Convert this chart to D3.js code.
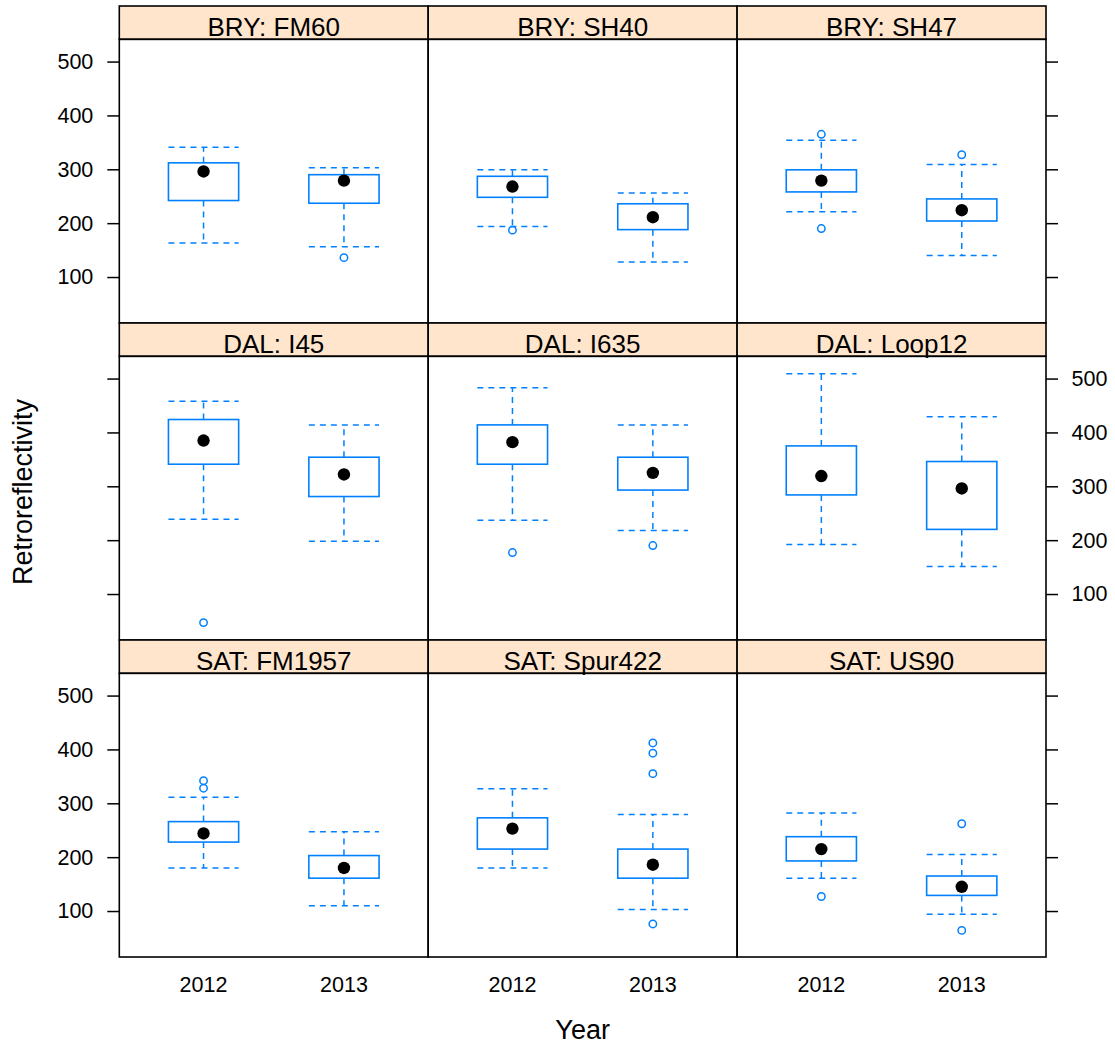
<!DOCTYPE html>
<html>
<head>
<meta charset="utf-8">
<script src="https://cdn.jsdelivr.net/npm/d3@7"></script>
<style>
  html, body { margin: 0; padding: 0; background: #fff; }
  svg text { font-family: "Liberation Sans", Arial, Helvetica, sans-serif; fill: #000; }
</style>
</head>
<body>
<svg id="chart" width="1115" height="1044"></svg>
<script>
// Retroreflectivity by year, one panel per district : road
const panelNames = [
  "BRY: FM60", "BRY: SH40", "BRY: SH47",
  "DAL: I45", "DAL: I635", "DAL: Loop12",
  "SAT: FM1957", "SAT: Spur422", "SAT: US90"
];
const years = ["2012", "2013"];

// five-number summaries, one [2012, 2013] pair per panel
const whiskerLow  = [[163, 156], [194, 128], [221, 140], [239, 198], [237, 218], [192, 151], [180, 110], [180, 103], [161, 94]];
const quartile1   = [[242, 237], [248, 188], [258, 204], [341, 281], [341, 293], [284, 220], [228, 161], [215, 161], [193, 129]];
const medians     = [[296, 279], [268, 211], [279, 224], [385, 322], [382, 325], [319, 296], [244, 180], [253, 186], [215, 145]];
const quartile3   = [[312, 290], [287, 236], [299, 245], [424, 354], [414, 354], [375, 346], [266, 203], [273, 215], [238, 165]];
const whiskerHigh = [[341, 303], [299, 256], [354, 309], [458, 414], [483, 414], [509, 429], [311, 247], [327, 279], [282, 205]];
const outliers    = [
  [[], [136]], [[187], []], [[365, 190], [327]],
  [[47], []], [[177], [190]], [[], []],
  [[342, 328], []], [[], [412, 393, 355, 76]], [[127], [262, 64]]
];
const yTicks = [100, 200, 300, 400, 500];

const boxColor = "#0080ff";
const stripFill = "#ffe5cc";

const svg = d3.select("#chart");

const left = 119.3, colW = 308.9;
const top0 = 6, stripH = 33.3, panelH = 283.7, rowPitch = stripH + panelH;
const nCols = 3, nRows = 3;

// shared y-range over every value, padded 7% each side
const allVals = [whiskerLow, whiskerHigh, outliers].flat(3);
const [vmin, vmax] = d3.extent(allVals);
const pad = (vmax - vmin) * 0.07;
const y = d3.scaleLinear().domain([vmin - pad, vmax + pad]).range([panelH, 0]);
const x = d3.scaleBand().domain(years).range([0, colW]).paddingInner(0).paddingOuter(0.1);
const boxW = x.bandwidth() * 0.5;

panelNames.forEach((name, i) => {
  const col = i % nCols, row = Math.floor(i / nCols);
  const px = left + col * colW;
  const stripY = top0 + row * rowPitch;
  const py = stripY + stripH;

  // strip
  svg.append("rect")
    .attr("x", px).attr("y", stripY).attr("width", colW).attr("height", stripH)
    .attr("fill", stripFill).attr("stroke", "#000").attr("stroke-width", 1.6);
  svg.append("text")
    .attr("x", px + colW / 2).attr("y", stripY + stripH - 3.5)
    .attr("text-anchor", "middle").attr("font-size", 26)
    .text(name);

  const g = svg.append("g").attr("transform", `translate(${px},${py})`);

  years.forEach((yr, j) => {
    const cx = x(yr) + x.bandwidth() / 2;
    const lo = whiskerLow[i][j], q1 = quartile1[i][j], md = medians[i][j],
          q3 = quartile3[i][j], hi = whiskerHigh[i][j];
    const dash = "6,5";
    // whiskers
    g.append("line").attr("x1", cx).attr("x2", cx).attr("y1", y(q3)).attr("y2", y(hi))
      .attr("stroke", boxColor).attr("stroke-width", 1.5).attr("stroke-dasharray", dash);
    g.append("line").attr("x1", cx).attr("x2", cx).attr("y1", y(q1)).attr("y2", y(lo))
      .attr("stroke", boxColor).attr("stroke-width", 1.5).attr("stroke-dasharray", dash);
    [lo, hi].forEach(v => {
      g.append("line").attr("x1", cx - boxW / 2).attr("x2", cx + boxW / 2)
        .attr("y1", y(v)).attr("y2", y(v))
        .attr("stroke", boxColor).attr("stroke-width", 1.5).attr("stroke-dasharray", dash);
    });
    // box
    g.append("rect")
      .attr("x", cx - boxW / 2).attr("y", y(q3)).attr("width", boxW).attr("height", y(q1) - y(q3))
      .attr("fill", "none").attr("stroke", boxColor).attr("stroke-width", 1.6);
    // outliers
    outliers[i][j].forEach(v => {
      g.append("circle").attr("cx", cx).attr("cy", y(v)).attr("r", 3.7)
        .attr("fill", "none").attr("stroke", boxColor).attr("stroke-width", 1.5);
    });
    // median dot
    g.append("circle").attr("cx", cx).attr("cy", y(md)).attr("r", 6.2).attr("fill", "#000");
  });

  // panel border
  g.append("rect").attr("width", colW).attr("height", panelH)
    .attr("fill", "none").attr("stroke", "#000").attr("stroke-width", 1.6);

  // alternating y axes: labels left on rows 1 & 3, right on row 2
  const labelLeft = row !== 1;
  if (col === 0) {
    const ax = d3.axisLeft(y).tickValues(yTicks).tickSize(12).tickPadding(14).tickSizeOuter(0);
    if (!labelLeft) ax.tickFormat("");
    const a = g.append("g").call(ax);
    a.select(".domain").remove();
    a.selectAll("line").attr("stroke-width", 1.5);
    a.selectAll("text").attr("font-size", 21.5);
  }
  if (col === nCols - 1) {
    const ax = d3.axisRight(y).tickValues(yTicks).tickSize(12).tickPadding(13.5).tickSizeOuter(0);
    if (labelLeft) ax.tickFormat("");
    const a = g.append("g").attr("transform", `translate(${colW},0)`).call(ax);
    a.select(".domain").remove();
    a.selectAll("line").attr("stroke-width", 1.5);
    a.selectAll("text").attr("font-size", 21.5);
  }
  if (row === nRows - 1) {
    const ax = d3.axisBottom(x).tickSize(0).tickPadding(20);
    const a = g.append("g").attr("transform", `translate(0,${panelH})`).call(ax);
    a.select(".domain").remove();
    a.selectAll("text").attr("font-size", 21.5);
  }
});

// axis titles
svg.append("text")
  .attr("x", left + nCols * colW / 2).attr("y", 1039)
  .attr("text-anchor", "middle").attr("font-size", 27)
  .text("Year");
svg.append("text")
  .attr("transform", "translate(32,492) rotate(-90)")
  .attr("text-anchor", "middle").attr("font-size", 27)
  .text("Retroreflectivity");
</script>
</body>
</html>
